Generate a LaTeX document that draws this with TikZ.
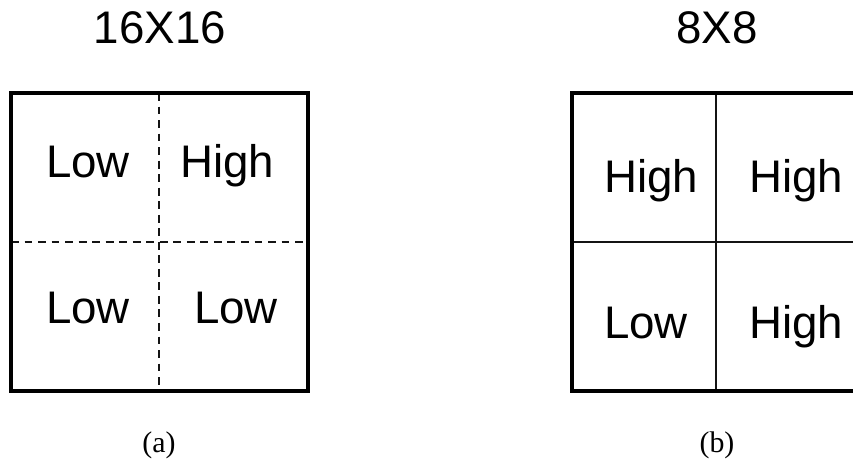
\documentclass[tikz,border=0pt]{standalone}
\usepackage{fontspec}
\setmainfont{Liberation Sans}
\newfontfamily\capfont{Liberation Serif}
\usepackage{xcolor}
\definecolor{framecolor}{RGB}{0,0,0}
\definecolor{splitcolor}{RGB}{20,20,20}

\begin{document}
\begin{tikzpicture}[
    x=0.02cm, y=-0.02cm,
    cellfont/.style={font=\fontsize{26}{30}\selectfont, anchor=base},
    capfont/.style={font=\capfont\fontsize{17}{19}\selectfont, anchor=base},
    outer/.style={framecolor, line width=2.3pt},
    split/.style={splitcolor, line width=0.8pt},
    dashsplit/.style={splitcolor, line width=0.8pt, dash pattern=on 4.5pt off 3.2pt}
]

% Page: 853 x 463 units
\useasboundingbox (0,0) rectangle (853,463);
\clip (0,0) rectangle (853,463);
\fill[white] (0,0) rectangle (853,463);

% Block sizes
\def\lx{11}  \def\rx{572}
\def\ty{93}  \def\by{391}

% Left block: 16X16, split by dashed lines
\draw[dashsplit] (159,\ty) -- (159,\by);
\draw[dashsplit] (\lx,242) -- (308,242);
\draw[outer] (\lx,\ty) rectangle (308,\by);

\node[cellfont] (title16) at (160,43) {16X16};
\node[cellfont] (l16tl) at (88,177)  {Low};
\node[cellfont] (l16tr) at (227,177) {High};
\node[cellfont] (l16bl) at (88,323)  {Low};
\node[cellfont] (l16br) at (236,323) {Low};

% Right block: 8X8, split by solid lines
\draw[split] (716,\ty) -- (716,\by);
\draw[split] (\rx,242) -- (860,242);
\draw[outer] (\rx,\ty) rectangle (860,\by);

\node[cellfont] (title8) at (717,43) {8X8};
\node[cellfont] (r8tl) at (651,192) {High};
\node[cellfont] (r8tr) at (796,192) {High};
\node[cellfont] (r8bl) at (646,338) {Low};
\node[cellfont] (r8br) at (796,338) {High};

% Captions
\node[capfont] (capa) at (159,452) {(a)};
\node[capfont] (capb) at (717,452) {(b)};

\end{tikzpicture}
\end{document}
